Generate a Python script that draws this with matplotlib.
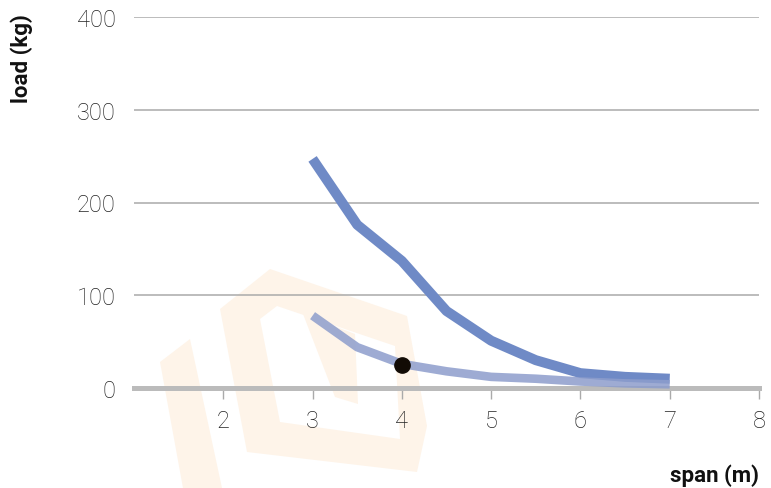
import matplotlib
matplotlib.use("Agg")
import matplotlib.pyplot as plt
from matplotlib.patches import Polygon

span = [3, 3.5, 4, 4.5, 5, 5.5, 6, 6.5, 7]
load_high = [247, 176, 137, 83, 51, 30, 16, 12, 10]
load_low = [78, 44, 26, 18, 12, 10, 7, 5, 4]
point_x = [4]
point_y = [25]
xticks = [2, 3, 4, 5, 6, 7, 8]
yticks = [0, 100, 200, 300, 400]

W, H = 771, 489
fig = plt.figure(figsize=(W / 100, H / 100), dpi=100)
fig.patch.set_facecolor("white")

# watermark in a background axes (pixel coords, y from top)
bg = fig.add_axes([0, 0, 1, 1], zorder=-1)
bg.set_xlim(0, W)
bg.set_ylim(H, 0)
bg.axis("off")
wm = "#fef4e9"
bg.add_patch(Polygon([(160, 363), (190, 340), (222, 489), (183, 489)], closed=True, fc=wm, ec="none"))
bg.add_patch(Polygon([(270, 270), (407, 317), (427, 427), (417, 473), (247, 453), (220, 310)],
                     closed=True, fc=wm, ec="none"))
bg.add_patch(Polygon([(260, 320), (277, 307), (395, 347), (400, 440), (280, 423)],
                     closed=True, fc="white", ec="none"))
bg.add_patch(Polygon([(303, 315), (355, 335), (358, 405), (335, 398)], closed=True, fc=wm, ec="none"))

ax = fig.add_axes([134 / W, (H - 389) / H, (759 - 134) / W, (389 - 18) / H], zorder=1)
ax.patch.set_alpha(0)
ax.set_xlim(1, 8)
ax.set_ylim(0, 400)

for s in ["top", "right", "left"]:
    ax.spines[s].set_visible(False)
ax.spines["bottom"].set_color("#bbbbbb")
ax.spines["bottom"].set_linewidth(3.6)
ax.spines["bottom"].set_zorder(1)

ax.set_yticks(yticks)
ax.set_xticks(xticks)
ax.yaxis.grid(True, color="#aaaaaa", linewidth=1.1, zorder=0)
ax.set_axisbelow(True)
ax.tick_params(axis="y", length=0, pad=13, labelsize=17, labelcolor="#222222")
ax.tick_params(axis="x", length=8, width=1, color="#aaaaaa", pad=7, labelsize=17, labelcolor="#222222")
for lab in ax.get_xticklabels() + ax.get_yticklabels():
    lab.set_fontfamily("Roboto")
    lab.set_fontweight("light")

ax.plot(span, load_high, color="#6f8ac6", linewidth=7.2, solid_capstyle="butt", zorder=3, clip_on=False)
ax.plot(span, load_low, color="#8d9dcc", alpha=0.85, linewidth=6.2, solid_capstyle="butt", zorder=3, clip_on=False)
ax.plot(point_x, point_y, "o", color="#120b05", markersize=11, zorder=4, clip_on=False)

fig.text(22 / W, 1 - 14 / H, "load (kg)", rotation=90, ha="center", va="top",
         fontsize=16, fontweight="bold", family="Roboto", color="#111111")
fig.text(759 / W, 1 - 476 / H, "span (m)", ha="right", va="center",
         fontsize=16, fontweight="bold", family="Roboto", color="#111111")

fig.savefig("out.png", dpi=100)
